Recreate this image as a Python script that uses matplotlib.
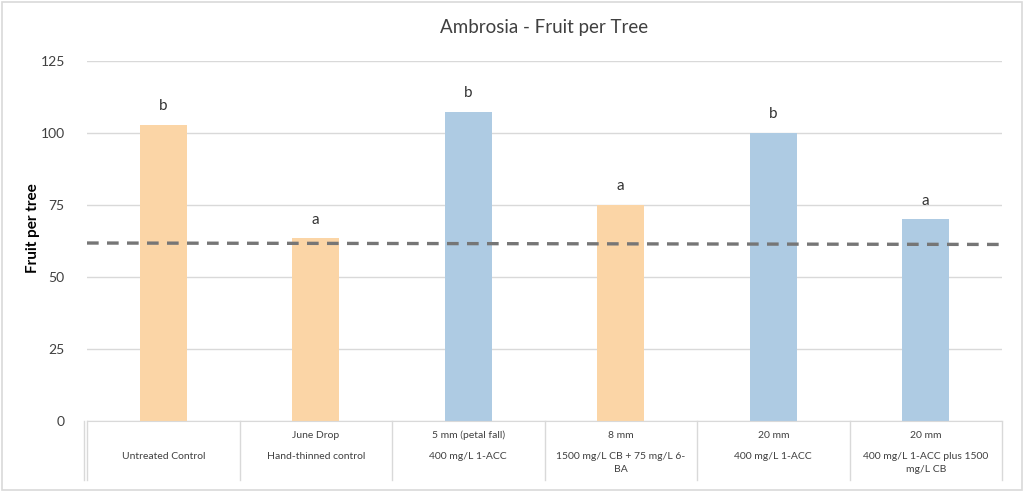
import matplotlib.pyplot as plt
import matplotlib.transforms as mtransforms
from matplotlib.patches import Rectangle

plt.rcParams['font.family'] = ['Lato', 'DejaVu Sans']

timing = ['', 'June Drop', '5 mm (petal fall)', '8 mm', '20 mm', '20 mm']
treatment = ['Untreated Control', 'Hand-thinned control', '400 mg/L 1-ACC',
             '1500 mg/L CB + 75 mg/L 6-\nBA', '400 mg/L 1-ACC',
             '400 mg/L 1-ACC plus 1500\nmg/L CB']
fruit = [102.8, 63.5, 107.3, 75.0, 100.0, 70.1]
letters = ['b', 'a', 'b', 'a', 'b', 'a']
group = ['control', 'control', 'acc', 'control', 'acc', 'acc']
ref_line = [61.8, 61.3]  # dashed line, left and right ends

colors = {'control': '#FBD5A6', 'acc': '#AECBE3'}

fig = plt.figure(figsize=(10.24, 4.92), dpi=100)
ax = fig.add_axes([87 / 1024, (492 - 421) / 492, (1002 - 87) / 1024, 360 / 492])

x = list(range(len(fruit)))
ax.bar(x, fruit, width=0.31, color=[colors[g] for g in group], zorder=2)
for xi, v, l in zip(x, fruit, letters):
    ax.text(xi, v + 4, l, ha='center', va='bottom', fontsize=11, color='#333333')

ax.plot([-0.5, len(fruit) - 0.5], ref_line, ls=(0, (3.5, 2.5)), color='#767676', lw=2.4, zorder=3)

ax.set_xlim(-0.5, len(fruit) - 0.5)
ax.set_ylim(0, 125)
ax.set_yticks([0, 25, 50, 75, 100, 125])
ax.yaxis.grid(True, color='#d9d9d9', lw=1)
ax.set_axisbelow(True)
ax.tick_params(axis='y', length=0, labelsize=10, labelcolor='#404040', pad=16)
ax.set_xticks([])
for s in ['top', 'right', 'left']:
    ax.spines[s].set_visible(False)
ax.spines['bottom'].set_color('#d9d9d9')

ax.set_ylabel('Fruit per tree', fontsize=11, fontweight='bold')
ax.yaxis.set_label_coords(-0.051, 0.535)
ax.set_title('Ambrosia - Fruit per Tree', fontsize=13.5, color='#404040', pad=20)

# category table below axis
trans = mtransforms.blended_transform_factory(ax.transData, ax.transAxes)
px = 1 / 360
for i in range(len(fruit) + 1):
    xl = i - 0.5
    ax.plot([xl, xl], [0, -59 * px], transform=trans, color='#d9d9d9', lw=1, clip_on=False)
ax.plot([-0.52, -0.52], [0, -59 * px], transform=trans, color='#d9d9d9', lw=1, clip_on=False)
for i in x:
    ax.text(i, -14 * px, timing[i], transform=trans, ha='center', va='center',
            fontsize=7.5, color='#404040')
    ax.text(i, -31 * px, treatment[i], transform=trans, ha='center', va='top',
            fontsize=7.5, color='#404040', linespacing=1.6)

fig.patches.append(Rectangle((0.002, 0.004), 0.996, 0.992, transform=fig.transFigure,
                             fill=False, edgecolor='#d9d9d9', lw=1.2))

fig.savefig('out.png', dpi=100)
